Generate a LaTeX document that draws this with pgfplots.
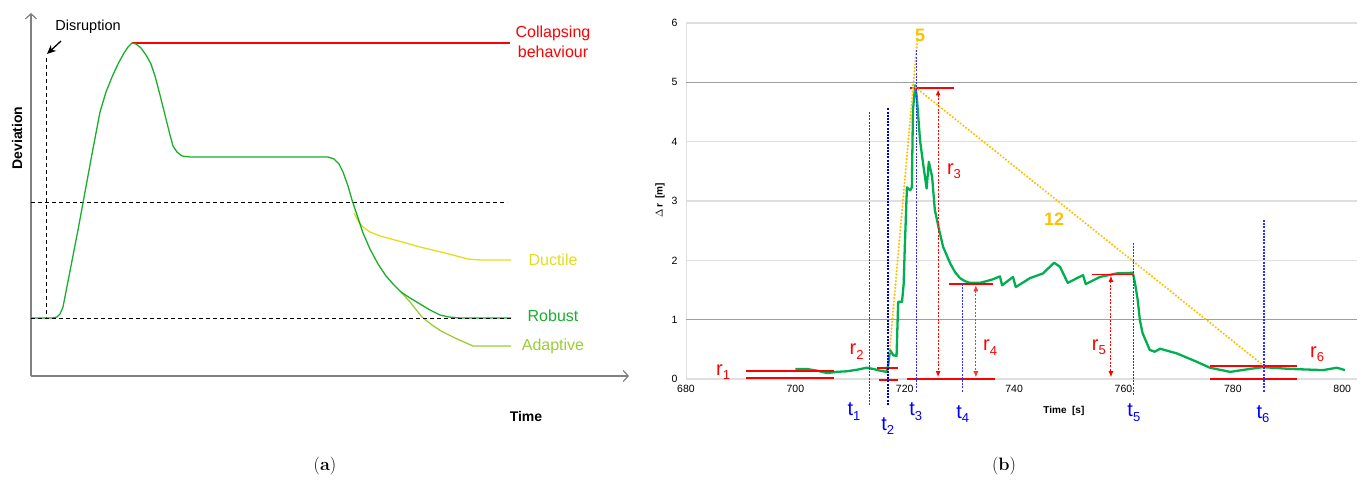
\documentclass[border=0pt]{standalone}
\usepackage{pgfplots}
\pgfplotsset{compat=1.18}
\usepackage{fontspec}
\newfontfamily\arial{Liberation Sans}
\usetikzlibrary{arrows.meta}
\definecolor{xgreen}{HTML}{00B050}
\definecolor{lgreen}{HTML}{1AAF2B}
\definecolor{ductile}{HTML}{E3DD1C}
\definecolor{adaptive}{HTML}{9ACD32}
\definecolor{gold}{HTML}{FFC000}
\definecolor{tbl}{HTML}{4A4AFF}
\definecolor{tbm}{HTML}{2E2EFF}
\definecolor{tbd}{HTML}{0000D0}
\newcommand{\sub}[1]{\raisebox{-4.5pt}{\fontsize{13}{13}\selectfont #1}}
\begin{document}
\begin{tikzpicture}[x=1pt,y=1pt]
\useasboundingbox (0,0) rectangle (1363,483);
% ---------------- panel (a) ----------------
\begin{axis}[at={(31pt,107pt)}, anchor=south west, scale only axis,
  width=598pt, height=363pt, xmin=31, xmax=629, ymin=107, ymax=470,
  axis lines=left, ticks=none, clip=false,
  axis line style={draw=gray, line width=1.2pt, -{Straight Barb[length=5pt,width=11pt]}}]
\addplot[black, line width=0.9pt, dash pattern=on 4pt off 3pt] coordinates {(31,281)(507,281)};
\addplot[black, line width=0.9pt, dash pattern=on 4pt off 3pt] coordinates {(46,425)(46,165)};
\addplot[red, line width=1.4pt] coordinates {(132,440)(510,440)};
\addplot[ductile, line width=1.3pt, line join=round] coordinates {
(354,270)(358,262)(363,256)(370,251)(380,247)(395,243)(420,236)(445,230)(468,224)(480,223)(511,223)};
\addplot[adaptive, line width=1.3pt, line join=round] coordinates {
(401,191)(410,181)(422,166)(432,158)(441,152)(455,145)(473,137)(511,137)};
\addplot[lgreen, line width=1.3pt, line join=round] coordinates {
(31,165)(52,165)(57,166)(60,169)(63,176)(70,212)(78,253)(85,291)(92,329)(100,371)(106,391)(112,406)(118,419)(124,430)(128,436)(132,440)(136,439)(141,435)(146,428)(151,419)(155,407)(160,388)(165,368)(170,348)(173,337)(177,331)(182,327)(190,326)(328,326)(334,324)(339,319)(343,311)(348,297)(352,283)(357,268)(363,250)(370,234)(378,219)(386,207)(394,198)(401,191)(410,185)(420,179)(430,173)(440,168)(449,166)(460,165)(511,165)};
\addplot[black, line width=0.9pt, dash pattern=on 4pt off 3pt] coordinates {(31,165)(511,165)};
\addplot[black, line width=1.3pt, -{Stealth[length=9pt,width=8pt]}] coordinates {(61,442)(47,429)};
\node[font=\arial\fontsize{14.5}{16}\selectfont] at (axis cs:88,456) {Disruption};
\node[rotate=90, font=\arial\bfseries\fontsize{14}{16}\selectfont] at (axis cs:17,345) {Deviation};
\node[font=\arial\bfseries\fontsize{14}{16}\selectfont] at (axis cs:526,67) {Time};
\node[red, align=center, font=\arial\fontsize{16}{20}\selectfont] at (axis cs:553,441) {Collapsing\\behaviour};
\node[ductile, font=\arial\fontsize{16}{18}\selectfont] at (axis cs:553,223) {Ductile};
\node[lgreen, font=\arial\fontsize{16}{18}\selectfont] at (axis cs:553,167) {Robust};
\node[adaptive, font=\arial\fontsize{16}{18}\selectfont] at (axis cs:553,137) {Adaptive};
\end{axis}
% ---------------- panel (b) ----------------
\begin{axis}[at={(686pt,104pt)}, anchor=south west, scale only axis,
  width=671pt, height=356pt, xmin=680, xmax=802.7, ymin=0, ymax=6,
  xtick={680,700,...,800}, ytick={0,...,6},
  axis lines=left, x axis line style={draw=none}, y axis line style={draw=gray!25, line width=1pt, -},
  major tick length=0pt, tick style={draw=none},
  ymajorgrids, major grid style={draw=gray!25, line width=1.2pt},
  extra y ticks={1,5}, extra y tick labels={},
  extra y tick style={grid=major, major grid style={draw=gray!75, line width=1pt}},
  clip=false,
  ticklabel style={font=\arial\fontsize{10.5}{12}\selectfont},
  /pgf/number format/assume math mode=true,
  yticklabel style={xshift=-5pt}, xticklabel style={yshift=-3pt}]
\addplot[xgreen, line width=2.3pt, line join=round] coordinates {
(700.0,0.17)(702.0,0.17)(704.0,0.14)(705.8,0.10)(707.5,0.12)(709.4,0.13)(711.5,0.16)(713.0,0.19)(714.2,0.17)(715.5,0.14)(716.7,0.12)(717.0,0.25)(717.3,0.49)(717.9,0.40)(718.5,0.39)(718.8,1.30)(719.5,1.30)(719.8,1.6)(720.0,2.20)(720.4,3.23)(721.0,3.18)(721.3,3.23)(721.5,4.53)(721.9,4.95)(722.2,4.75)(722.8,4.02)(723.4,3.6)(724.0,3.21)(724.4,3.66)(725.0,3.41)(725.5,2.85)(726.2,2.55)(727.0,2.23)(728.3,1.95)(729.2,1.80)(730.1,1.70)(731.0,1.65)(731.9,1.62)(733.7,1.62)(735.0,1.65)(736.1,1.68)(737.4,1.73)(737.8,1.58)(739.8,1.72)(740.3,1.55)(742.9,1.70)(745.3,1.78)(747.3,1.96)(748.4,1.89)(749.8,1.62)(751.5,1.70)(752.6,1.75)(753.1,1.60)(755.7,1.72)(758.8,1.78)(761.7,1.79)(762.1,1.62)(762.6,1.33)(763.0,0.99)(763.5,0.77)(764.8,0.49)(765.7,0.46)(766.7,0.51)(769.8,0.43)(773.4,0.29)(775.8,0.19)(779.5,0.12)(783.1,0.17)(785.5,0.20)(790.4,0.17)(796.5,0.15)(799.0,0.19)(800.5,0.15)};
% red levels
\addplot[red, line width=1.7pt] coordinates {(691.0,0.13)(707.1,0.13)};
\addplot[red, line width=1.7pt] coordinates {(691.0,0.02)(707.1,0.02)};
\addplot[red, line width=1.7pt] coordinates {(714.9,0.19)(718.8,0.19)};
\addplot[red, line width=1.7pt] coordinates {(715.2,-0.02)(718.8,-0.02)};
\addplot[red, line width=1.7pt] coordinates {(721.0,4.90)(729.0,4.90)};
\addplot[red, line width=1.7pt] coordinates {(720.4,0.0)(736.5,0.0)};
\addplot[red, line width=1.7pt] coordinates {(728.1,1.60)(736.1,1.60)};
\addplot[red, line width=1.7pt] coordinates {(754.2,1.76)(761.7,1.76)};
\addplot[red, line width=1.7pt] coordinates {(775.8,0.22)(791.7,0.22)};
\addplot[red, line width=1.7pt] coordinates {(775.8,0.0)(791.7,0.0)};
% red arrows
\addplot[red, line width=1.2pt, dash pattern=on 2pt off 1.5pt, {Latex[length=6pt,width=5pt]}-{Latex[length=6pt,width=5pt]}] coordinates {(726.1,4.88)(726.1,0.03)};
\addplot[red!80, line width=0.8pt, dash pattern=on 2pt off 1.5pt, {Latex[length=6pt,width=5pt]}-{Latex[length=6pt,width=5pt]}] coordinates {(733.0,1.58)(733.0,0.03)};
\addplot[red, line width=0.9pt, dash pattern=on 2pt off 1.5pt, {Latex[length=6pt,width=5pt]}-{Latex[length=6pt,width=5pt]}] coordinates {(757.7,1.74)(757.7,0.03)};
% yellow dotted
\addplot[gold, line width=2.4pt, line cap=round, dash pattern=on 0pt off 3.4pt] coordinates {(717.2,0.45)(722.3,5.72)};
\addplot[gold, line width=2.4pt, line cap=round, dash pattern=on 0pt off 3.4pt] coordinates {(721.5,4.95)(785.7,0.22)};
% blue dashed
\addplot[color=tbm, line width=1.1pt, dash pattern=on 2pt off 1.2pt] coordinates {(713.5,4.50)(713.5,-0.44)};
\addplot[color=tbd, line width=1.4pt, dash pattern=on 2pt off 1.2pt] coordinates {(716.9,4.56)(716.9,-0.44)};
\addplot[color=tbm, line width=1pt, dash pattern=on 2pt off 1.2pt] coordinates {(722.2,5.54)(722.2,-0.23)};
\addplot[color=tbm, line width=1.1pt, dash pattern=on 2pt off 1.2pt] coordinates {(730.6,1.60)(730.6,-0.23)};
\addplot[color=tbm, line width=1.1pt, dash pattern=on 2pt off 1.2pt] coordinates {(761.9,2.30)(761.9,-0.27)};
\addplot[color=tbm, line width=1.1pt, dash pattern=on 2pt off 1.2pt] coordinates {(785.7,2.68)(785.7,-0.23)};
% labels
\def\rf{\arial\fontsize{20}{20}\selectfont}
\node[red, font=\rf] at (axis cs:686.8,0.12) {r\sub{1}};
\node[red, font=\rf] at (axis cs:711.2,0.46) {r\sub{2}};
\node[red, font=\rf] at (axis cs:729.0,3.50) {r\sub{3}};
\node[red, font=\rf] at (axis cs:735.6,0.53) {r\sub{4}};
\node[red, font=\rf] at (axis cs:755.5,0.54) {r\sub{5}};
\node[red, font=\rf] at (axis cs:795.4,0.42) {r\sub{6}};
\node[blue, font=\rf] at (axis cs:710.7,-0.55) {t\sub{1}};
\node[blue, font=\rf] at (axis cs:716.9,-0.79) {t\sub{2}};
\node[blue, font=\rf] at (axis cs:722.0,-0.55) {t\sub{3}};
\node[blue, font=\rf] at (axis cs:730.6,-0.59) {t\sub{4}};
\node[blue, font=\rf] at (axis cs:761.9,-0.57) {t\sub{5}};
\node[blue, font=\rf] at (axis cs:785.5,-0.59) {t\sub{6}};
\node[gold, font=\arial\bfseries\fontsize{18}{18}\selectfont] at (axis cs:722.8,5.79) {5};
\node[gold, font=\arial\bfseries\fontsize{18}{18}\selectfont] at (axis cs:747.3,2.69) {12};
\node[font=\arial\bfseries\fontsize{10}{12}\selectfont] at (axis cs:749.1,-0.54) {Time~~[s]};
\node[rotate=90, font=\arial\bfseries\fontsize{10}{12}\selectfont] at (axis cs:675.25,3.01) {$\Delta$\,r~~[m]};
\end{axis}
\node[font=\fontsize{18}{20}\selectfont] at (325,17) {(\textbf{a})};
\node[font=\fontsize{18}{20}\selectfont] at (1004,17) {(\textbf{b})};
\end{tikzpicture}
\end{document}
